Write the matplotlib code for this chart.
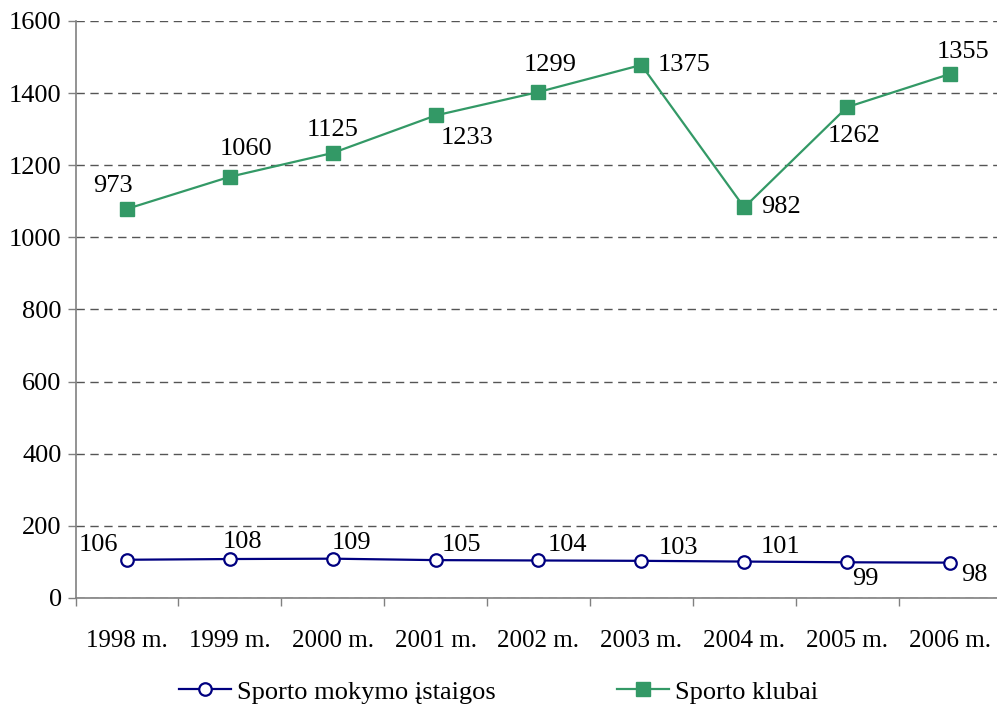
import numpy as np
import matplotlib.pyplot as plt
from matplotlib.ticker import FixedLocator, NullFormatter

# Duomenys
metai = ['1998 m.', '1999 m.', '2000 m.', '2001 m.', '2002 m.',
         '2003 m.', '2004 m.', '2005 m.', '2006 m.']
mokymo_istaigos = np.array([106, 108, 109, 105, 104, 103, 101, 99, 98])
sporto_klubai = np.array([973, 1060, 1125, 1233, 1299, 1375, 982, 1262, 1355])

# Etikečių poslinkiai (pikseliais)
poslinkiai_m = [(-29, 15), (13, 17), (19, 16), (26, 15), (29, 15),
                (37, 13), (36, 15), (18, -17), (24, -12)]
poslinkiai_k = [(-14, 23), (16, 28), (0, 23), (31, -23), (12, 27),
                (43, 0), (37, 0), (7, -29), (13, 22)]

plt.rcParams['font.family'] = ['Liberation Serif', 'DejaVu Serif']
plt.rcParams['font.size'] = 19

fig = plt.figure(figsize=(9.97, 7.06), dpi=100)
ax = fig.add_axes([0.0758, 0.153, 0.9286, 0.8173])

x = np.arange(len(metai))
zalia = '#339966'
melyna = '#000080'

# Grafikas sudėtinis: klubai rodomi virš mokymo įstaigų
virsus = mokymo_istaigos + sporto_klubai

ax.plot(x, mokymo_istaigos, color=melyna, lw=1.6, marker='o', ms=9,
        mfc='white', mec=melyna, mew=1.6, label='Sporto mokymo įstaigos', zorder=3)
ax.plot(x, virsus, color=zalia, lw=1.6, marker='s', ms=9.5,
        mfc=zalia, mec=zalia, label='Sporto klubai', zorder=3)

for i in range(len(x)):
    ax.annotate(str(mokymo_istaigos[i]), (x[i], mokymo_istaigos[i]),
                xytext=poslinkiai_m[i], textcoords='offset pixels',
                ha='center', va='center')
    ax.annotate(str(sporto_klubai[i]), (x[i], virsus[i]),
                xytext=poslinkiai_k[i], textcoords='offset pixels',
                ha='center', va='center')

ax.set_xlim(-0.5, len(metai) - 0.5)
ax.set_ylim(0, 1600)
ax.set_yticks(np.arange(0, 1601, 200))

ax.set_xticks(x)
ax.set_xticklabels(metai, fontsize=18)
ax.xaxis.set_minor_locator(FixedLocator(np.arange(-0.5, len(metai), 1)))
ax.xaxis.set_minor_formatter(NullFormatter())
ax.tick_params(axis='x', which='major', length=0, pad=23)
ax.tick_params(axis='x', which='minor', length=6, width=1, color='#808080')
ax.tick_params(axis='y', length=6, width=1, color='#808080', pad=4)

ax.grid(axis='y', color='#555555', linestyle=(0, (6, 4)), lw=1)
ax.set_axisbelow(True)
for s in ['top', 'right']:
    ax.spines[s].set_visible(False)
for s in ['left', 'bottom']:
    ax.spines[s].set_color('#808080')
    ax.spines[s].set_linewidth(1.2)

fig.legend(loc='center', bbox_to_anchor=(0.5, 0.02), ncol=2, frameon=False,
           handlelength=1.97, handletextpad=0.23, columnspacing=4.6)

fig.savefig('out.png', dpi=100)
